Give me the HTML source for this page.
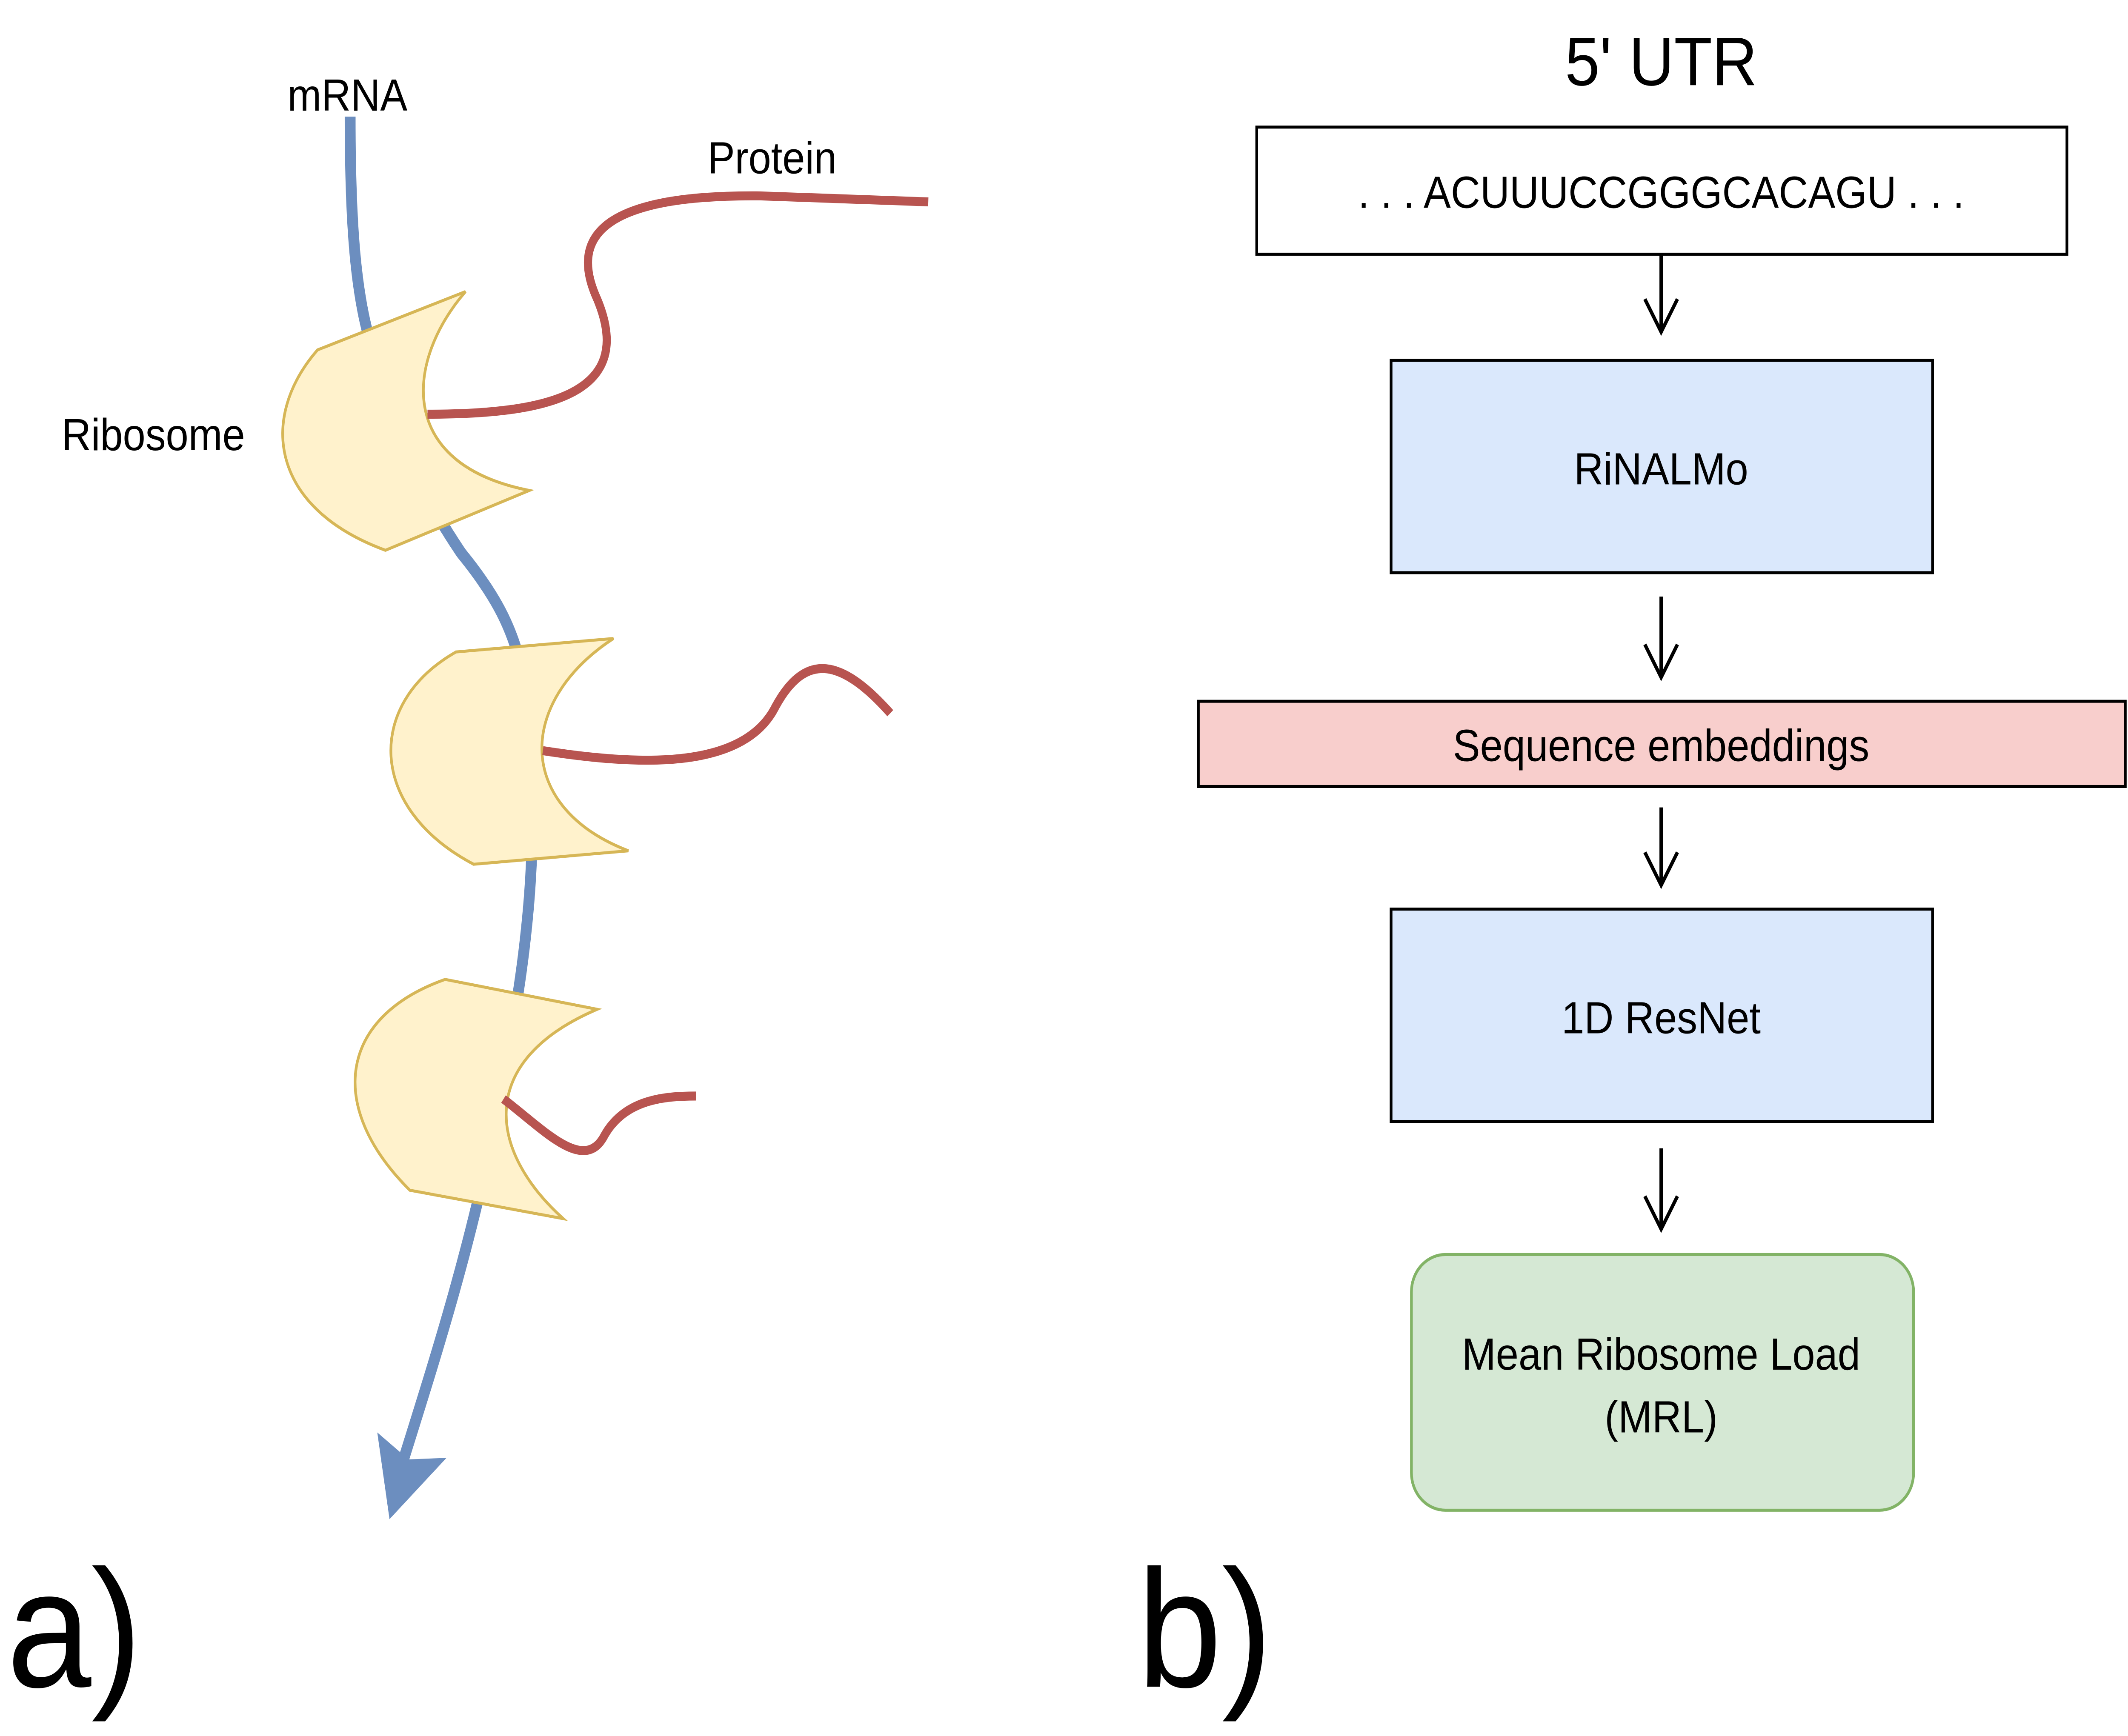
<!DOCTYPE html>
<html><head><meta charset="utf-8"><style>
html,body{margin:0;padding:0;background:#fff;width:100%;height:100%;overflow:hidden;}
svg{display:block;width:100vw;height:100vh;position:absolute;left:0;top:0;}
text{font-family:"Liberation Sans",sans-serif;fill:#000;}
</style></head><body>
<svg viewBox="0 0 1568 1161" preserveAspectRatio="none" xmlns="http://www.w3.org/2000/svg">
<rect width="1568" height="1161" fill="#fff"/>
<!-- mRNA -->
<path d="M258,78 C258,150 262,200 275,235 C290,290 310,330 340,370 C365,398 378,420 385,450 C393,500 395,560 388,620 C383,665 375,700 365,750 C345,840 320,910 296,980" fill="none" stroke="#6c8ebf" stroke-width="8"/>
<polygon points="287,1016 278,958 301,976 329,975" fill="#6c8ebf"/>
<!-- ribosomes -->
<path d="M234,234 L343,195 C300,240 290,310 390,328 L284,368 C200,340 190,280 234,234 Z" fill="#fff2cc" stroke="#d6b656" stroke-width="2"/>
<path d="M336,436 L452,427 C380,470 380,540 463,569 L349,578 C270,540 270,470 336,436 Z" fill="#fff2cc" stroke="#d6b656" stroke-width="2"/>
<path d="M328,655 L440,675 C350,710 360,770 415,815 L302,796 C240,740 250,680 328,655 Z" fill="#fff2cc" stroke="#d6b656" stroke-width="2"/>
<!-- proteins -->
<g fill="none" stroke="#b85450" stroke-width="6">
<path d="M315,277 C400,277 470,265 440,200 C420,160 440,130 560,131 L684,135"/>
<path d="M400,502 C470,512 545,515 570,475 C590,440 615,435 656,477"/>
<path d="M371,735 C400,755 430,785 445,760 C460,735 490,733 513,733"/>
</g>
<text x="256" y="74" font-size="30" text-anchor="middle">mRNA</text>
<text x="569" y="116" font-size="30" text-anchor="middle">Protein</text>
<text x="113" y="301" font-size="30" text-anchor="middle">Ribosome</text>
<text x="5" y="1128" font-size="112">a)</text>
<text x="838" y="1128" font-size="112">b)</text>
<!-- right -->
<text x="1224" y="57" font-size="46" text-anchor="middle">5' UTR</text>
<rect x="926" y="85" width="597" height="85" fill="#fff" stroke="#000" stroke-width="2"/>
<text x="1224" y="139" font-size="30" text-anchor="middle">. . . ACUUUCCGGGCACAGU . . .</text>
<rect x="1025" y="241" width="399" height="142" fill="#dae8fc" stroke="#000" stroke-width="2"/>
<text x="1224" y="324" font-size="30" text-anchor="middle">RiNALMo</text>
<rect x="883" y="469" width="683" height="57" fill="#f8cecc" stroke="#000" stroke-width="2"/>
<text x="1224" y="509" font-size="30" text-anchor="middle">Sequence embeddings</text>
<rect x="1025" y="608" width="399" height="142" fill="#dae8fc" stroke="#000" stroke-width="2"/>
<text x="1224" y="691" font-size="30" text-anchor="middle">1D ResNet</text>
<rect x="1040" y="839" width="370" height="171" rx="25" fill="#d5e8d4" stroke="#82b366" stroke-width="2"/>
<text x="1224" y="916" font-size="30" text-anchor="middle">Mean Ribosome Load</text>
<text x="1224" y="958" font-size="30" text-anchor="middle">(MRL)</text>
<g stroke="#000" stroke-width="2.5" fill="none">
<line x1="1224" y1="170" x2="1224" y2="221"/>
<line x1="1224" y1="399" x2="1224" y2="452"/>
<line x1="1224" y1="540" x2="1224" y2="591"/>
<line x1="1224" y1="768" x2="1224" y2="821"/>
<polyline points="1212,200 1224,222 1236,200"/>
<polyline points="1212,431 1224,453 1236,431"/>
<polyline points="1212,570 1224,592 1236,570"/>
<polyline points="1212,800 1224,822 1236,800"/>
</g>
</svg>
</body></html>
